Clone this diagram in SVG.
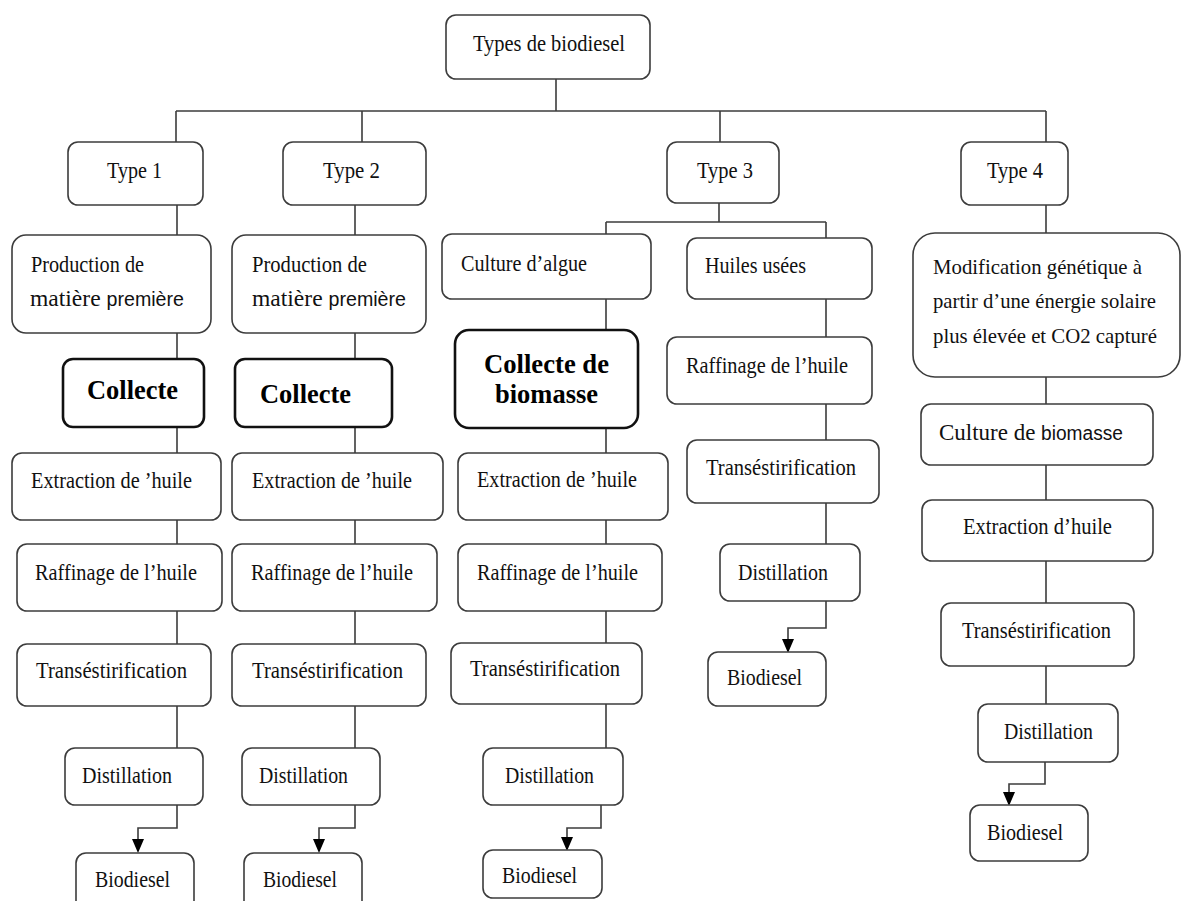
<svg xmlns="http://www.w3.org/2000/svg" width="1182" height="901" viewBox="0 0 1182 901">
  <style>
    .box { fill: #ffffff; stroke: #3c3c3c; stroke-width: 1.6; }
    .key { fill: #ffffff; stroke: #111111; stroke-width: 2.6; }
    .wire { fill: none; stroke: #3c3c3c; stroke-width: 1.6; }
    .t { font-family: "Liberation Serif", "Times New Roman", serif; font-size: 24px; fill: #111111; }
    .s { font-size: 21px; }
    .b { font-family: "Liberation Serif", "Times New Roman", serif; font-size: 28px; font-weight: bold; fill: #000000; }
    .sans { font-family: "Liberation Sans", Arial, sans-serif; font-size: 20px; }
    .head { fill: #000000; }
  </style>

  <!-- connectors -->
  <g id="connectors">
    <path class="wire" d="M556 79 V111 M176 111 H1046 M176 111 V142 M362 111 V142 M720 111 V142 M1046 111 V142"/>
    <!-- type 1 chain -->
    <path class="wire" d="M177 205 V235 M177 333 V359 M177 427 V453 M177 520 V544 M177 611 V644 M177 706 V748"/>
    <path class="wire" d="M177 805 V828 H138 V839"/>
    <!-- type 2 chain -->
    <path class="wire" d="M355 205 V235 M355 333 V359 M355 427 V453 M355 520 V544 M355 611 V644 M355 706 V748"/>
    <path class="wire" d="M355 805 V828 H319 V839"/>
    <!-- type 3 split -->
    <path class="wire" d="M719 203 V222 M606 222 H826 M606 222 V234 M826 222 V238"/>
    <path class="wire" d="M606 299 V330 M606 428 V453 M606 520 V544 M606 611 V643 M606 704 V748"/>
    <path class="wire" d="M601 805 V828 H567 V837"/>
    <path class="wire" d="M826 299 V337 M826 404 V440 M826 503 V544"/>
    <path class="wire" d="M826 601 V628 H788 V639"/>
    <!-- type 4 chain -->
    <path class="wire" d="M1046 205 V233 M1046 377 V404 M1046 465 V500 M1046 561 V603 M1046 666 V704"/>
    <path class="wire" d="M1045 762 V784 H1009 V792"/>
    <!-- arrowheads -->
    <path class="head" d="M132 839 H144 L138 853 Z M313 839 H325 L319 853 Z M561 837 H573 L567 851 Z M782 639 H794 L788 653 Z M1003 792 H1015 L1009 806 Z"/>
  </g>

  <!-- root -->
  <g id="root">
    <rect class="box" x="446" y="15" width="204" height="64" rx="10"/>
    <text class="t" x="473" y="51" textLength="152" lengthAdjust="spacingAndGlyphs">Types de biodiesel</text>
  </g>

  <!-- type headers -->
  <g id="type1">
    <rect class="box" x="68" y="142" width="135" height="63" rx="10"/>
    <text class="t" x="107" y="178" textLength="55" lengthAdjust="spacingAndGlyphs">Type 1</text>
  </g>
  <g id="type2">
    <rect class="box" x="283" y="142" width="143" height="63" rx="10"/>
    <text class="t" x="323" y="178" textLength="57" lengthAdjust="spacingAndGlyphs">Type 2</text>
  </g>
  <g id="type3">
    <rect class="box" x="667" y="142" width="112" height="61" rx="10"/>
    <text class="t" x="697" y="178" textLength="56" lengthAdjust="spacingAndGlyphs">Type 3</text>
  </g>
  <g id="type4">
    <rect class="box" x="961" y="142" width="107" height="63" rx="10"/>
    <text class="t" x="987" y="178" textLength="56" lengthAdjust="spacingAndGlyphs">Type 4</text>
  </g>

  <!-- type 1 column -->
  <g id="t1-production">
    <rect class="box" x="12" y="235" width="199" height="98" rx="14"/>
    <text class="t" x="31" y="272" textLength="113" lengthAdjust="spacingAndGlyphs">Production de</text>
    <text class="t" x="30" y="306" textLength="154" lengthAdjust="spacingAndGlyphs">matière <tspan class="sans">première</tspan></text>
  </g>
  <g id="t1-collecte">
    <rect class="key" x="63" y="359" width="141" height="68" rx="10"/>
    <text class="b" x="87" y="399" textLength="91" lengthAdjust="spacingAndGlyphs">Collecte</text>
  </g>
  <g id="t1-extraction">
    <rect class="box" x="12" y="453" width="209" height="67" rx="10"/>
    <text class="t" x="31" y="488" textLength="161" lengthAdjust="spacingAndGlyphs">Extraction de ’huile</text>
  </g>
  <g id="t1-raffinage">
    <rect class="box" x="17" y="544" width="205" height="67" rx="10"/>
    <text class="t" x="35" y="580" textLength="162" lengthAdjust="spacingAndGlyphs">Raffinage de l’huile</text>
  </g>
  <g id="t1-trans">
    <rect class="box" x="17" y="644" width="194" height="62" rx="10"/>
    <text class="t" x="36" y="678" textLength="151" lengthAdjust="spacingAndGlyphs">Transéstirification</text>
  </g>
  <g id="t1-distillation">
    <rect class="box" x="65" y="748" width="138" height="57" rx="10"/>
    <text class="t" x="82" y="783" textLength="90" lengthAdjust="spacingAndGlyphs">Distillation</text>
  </g>
  <g id="t1-biodiesel">
    <rect class="box" x="76" y="853" width="118" height="60" rx="10"/>
    <text class="t" x="95" y="887" textLength="75" lengthAdjust="spacingAndGlyphs">Biodiesel</text>
  </g>

  <!-- type 2 column -->
  <g id="t2-production">
    <rect class="box" x="232" y="235" width="194" height="98" rx="14"/>
    <text class="t" x="252" y="272" textLength="115" lengthAdjust="spacingAndGlyphs">Production de</text>
    <text class="t" x="252" y="306" textLength="154" lengthAdjust="spacingAndGlyphs">matière <tspan class="sans">première</tspan></text>
  </g>
  <g id="t2-collecte">
    <rect class="key" x="235" y="359" width="157" height="68" rx="10"/>
    <text class="b" x="260" y="403" textLength="91" lengthAdjust="spacingAndGlyphs">Collecte</text>
  </g>
  <g id="t2-extraction">
    <rect class="box" x="232" y="453" width="211" height="67" rx="10"/>
    <text class="t" x="252" y="488" textLength="160" lengthAdjust="spacingAndGlyphs">Extraction de ’huile</text>
  </g>
  <g id="t2-raffinage">
    <rect class="box" x="232" y="544" width="205" height="67" rx="10"/>
    <text class="t" x="251" y="580" textLength="162" lengthAdjust="spacingAndGlyphs">Raffinage de l’huile</text>
  </g>
  <g id="t2-trans">
    <rect class="box" x="232" y="644" width="194" height="62" rx="10"/>
    <text class="t" x="252" y="678" textLength="151" lengthAdjust="spacingAndGlyphs">Transéstirification</text>
  </g>
  <g id="t2-distillation">
    <rect class="box" x="242" y="748" width="138" height="57" rx="10"/>
    <text class="t" x="259" y="783" textLength="89" lengthAdjust="spacingAndGlyphs">Distillation</text>
  </g>
  <g id="t2-biodiesel">
    <rect class="box" x="244" y="853" width="118" height="60" rx="10"/>
    <text class="t" x="263" y="887" textLength="74" lengthAdjust="spacingAndGlyphs">Biodiesel</text>
  </g>

  <!-- type 3, algae branch -->
  <g id="t3-algue">
    <rect class="box" x="442" y="234" width="209" height="65" rx="10"/>
    <text class="t" x="461" y="271" textLength="126" lengthAdjust="spacingAndGlyphs">Culture d’algue</text>
  </g>
  <g id="t3-collecte">
    <rect class="key" x="455" y="330" width="183" height="98" rx="14"/>
    <text class="b" x="484" y="373" textLength="125" lengthAdjust="spacingAndGlyphs">Collecte de</text>
    <text class="b" x="495" y="403" textLength="103" lengthAdjust="spacingAndGlyphs">biomasse</text>
  </g>
  <g id="t3-extraction">
    <rect class="box" x="458" y="453" width="210" height="67" rx="10"/>
    <text class="t" x="477" y="487" textLength="160" lengthAdjust="spacingAndGlyphs">Extraction de ’huile</text>
  </g>
  <g id="t3-raffinage">
    <rect class="box" x="458" y="544" width="204" height="67" rx="10"/>
    <text class="t" x="477" y="580" textLength="161" lengthAdjust="spacingAndGlyphs">Raffinage de l’huile</text>
  </g>
  <g id="t3-trans">
    <rect class="box" x="451" y="643" width="191" height="61" rx="10"/>
    <text class="t" x="470" y="676" textLength="150" lengthAdjust="spacingAndGlyphs">Transéstirification</text>
  </g>
  <g id="t3-distillation">
    <rect class="box" x="483" y="748" width="140" height="57" rx="10"/>
    <text class="t" x="505" y="783" textLength="89" lengthAdjust="spacingAndGlyphs">Distillation</text>
  </g>
  <g id="t3-biodiesel">
    <rect class="box" x="483" y="850" width="119" height="48" rx="10"/>
    <text class="t" x="502" y="883" textLength="75" lengthAdjust="spacingAndGlyphs">Biodiesel</text>
  </g>

  <!-- type 3, used oil branch -->
  <g id="t3-huiles">
    <rect class="box" x="687" y="238" width="185" height="61" rx="10"/>
    <text class="t" x="705" y="273" textLength="101" lengthAdjust="spacingAndGlyphs">Huiles usées</text>
  </g>
  <g id="t3h-raffinage">
    <rect class="box" x="667" y="337" width="205" height="67" rx="10"/>
    <text class="t" x="686" y="373" textLength="162" lengthAdjust="spacingAndGlyphs">Raffinage de l’huile</text>
  </g>
  <g id="t3h-trans">
    <rect class="box" x="687" y="440" width="192" height="63" rx="10"/>
    <text class="t" x="706" y="475" textLength="150" lengthAdjust="spacingAndGlyphs">Transéstirification</text>
  </g>
  <g id="t3h-distillation">
    <rect class="box" x="720" y="544" width="140" height="57" rx="10"/>
    <text class="t" x="738" y="580" textLength="90" lengthAdjust="spacingAndGlyphs">Distillation</text>
  </g>
  <g id="t3h-biodiesel">
    <rect class="box" x="708" y="652" width="118" height="54" rx="10"/>
    <text class="t" x="727" y="685" textLength="75" lengthAdjust="spacingAndGlyphs">Biodiesel</text>
  </g>

  <!-- type 4 column -->
  <g id="t4-modification">
    <rect class="box" x="913" y="233" width="267" height="144" rx="22"/>
    <text class="t s" x="933" y="274" textLength="209" lengthAdjust="spacingAndGlyphs">Modification génétique à</text>
    <text class="t s" x="933" y="308" textLength="223" lengthAdjust="spacingAndGlyphs">partir d’une énergie  solaire</text>
    <text class="t s" x="933" y="343" textLength="224" lengthAdjust="spacingAndGlyphs">plus élevée et CO2 capturé</text>
  </g>
  <g id="t4-culture">
    <rect class="box" x="921" y="404" width="232" height="61" rx="10"/>
    <text class="t" x="939" y="440" textLength="184" lengthAdjust="spacingAndGlyphs">Culture de  <tspan class="sans">biomasse</tspan></text>
  </g>
  <g id="t4-extraction">
    <rect class="box" x="922" y="500" width="231" height="61" rx="10"/>
    <text class="t" x="963" y="534" textLength="149" lengthAdjust="spacingAndGlyphs">Extraction d’huile</text>
  </g>
  <g id="t4-trans">
    <rect class="box" x="941" y="603" width="193" height="63" rx="10"/>
    <text class="t" x="962" y="638" textLength="149" lengthAdjust="spacingAndGlyphs">Transéstirification</text>
  </g>
  <g id="t4-distillation">
    <rect class="box" x="978" y="704" width="140" height="58" rx="10"/>
    <text class="t" x="1004" y="739" textLength="89" lengthAdjust="spacingAndGlyphs">Distillation</text>
  </g>
  <g id="t4-biodiesel">
    <rect class="box" x="970" y="805" width="118" height="56" rx="10"/>
    <text class="t" x="987" y="840" textLength="76" lengthAdjust="spacingAndGlyphs">Biodiesel</text>
  </g>
</svg>
